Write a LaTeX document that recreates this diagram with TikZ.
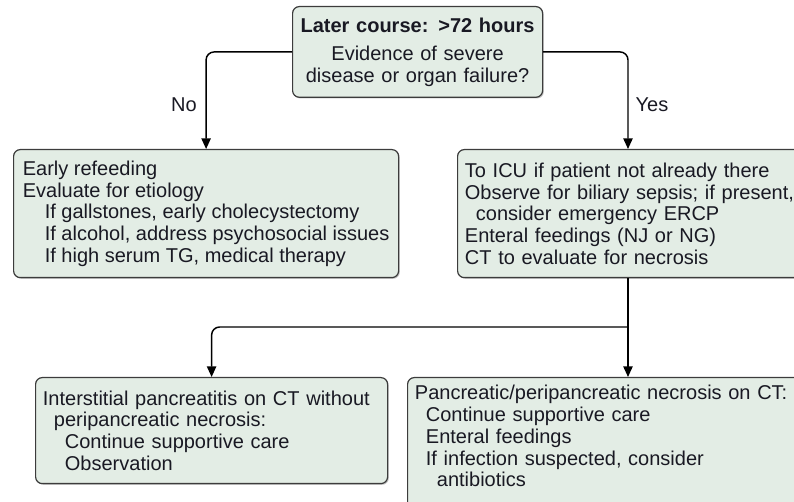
\documentclass[tikz,border=0pt]{standalone}
\usepackage{fontspec}
\setmainfont{Liberation Sans}
\usetikzlibrary{arrows.meta,shadows}

\definecolor{boxfill}{RGB}{227,237,229}
\definecolor{boxline}{RGB}{60,60,60}
\definecolor{inktext}{RGB}{25,25,35}

\hyphenpenalty=10000
\newcommand{\boxfont}{\fontsize{15}{16.3}\selectfont}
\newcommand{\subind}{\hspace*{1.1em}}
\newcommand{\halfind}{\hspace*{0.55em}}

\begin{document}
\begin{tikzpicture}[x=0.75pt, y=-0.75pt,
    box/.style={draw=boxline, line width=0.9pt, fill=boxfill, rounded corners=5pt,
      anchor=north west, align=left, inner xsep=5.5pt, inner ysep=0pt,
      text=inktext, font=\boxfont,
      drop shadow={shadow xshift=0.9pt, shadow yshift=-0.9pt, opacity=0.4, fill=black!60}},
    flow/.style={line width=1.1pt, rounded corners=6pt, -{Triangle[length=8pt, width=7pt]}},
    branch/.style={font=\boxfont, text=inktext}]

  % page frame (the reference is cut at the right and bottom)
  \useasboundingbox (0,0) rectangle (794,502);

  % === Decision at 72 hours ===
  \node[box, align=center, inner xsep=3pt, text width=181.5pt, minimum height=68pt] (course) at (292,6)
    {\textbf{Later course: >72 hours}\\[5pt]
     Evidence of severe\\
     disease or organ failure?};

  % === Mild course ===
  \node[box, inner xsep=2pt, minimum width=288.75pt, minimum height=96pt] (early) at (13,149)
    {Early refeeding\\
     Evaluate for etiology\\
     \subind If gallstones, early cholecystectomy\\
     \subind If alcohol, address psychosocial issues\\
     \subind If high serum TG, medical therapy};

  % === Severe course ===
  \node[box, text width=265pt, minimum height=96pt] (icu) at (457,149)
    {To ICU if patient not already there\\
     Observe for biliary sepsis; if present,\\
     \halfind consider emergency ERCP\\
     Enteral feedings (NJ or NG)\\
     CT to evaluate for necrosis};

  % === CT findings ===
  \node[box, text width=253pt, minimum height=79.5pt] (inter) at (35,377)
    {Interstitial pancreatitis on CT without\\
     \halfind peripancreatic necrosis:\\
     \subind Continue supportive care\\
     \subind Observation};

  \node[box, text width=295pt, minimum height=104pt] (necro) at (407,377)
    {Pancreatic/peripancreatic necrosis on CT:\\
     \halfind Continue supportive care\\
     \halfind Enteral feedings\\
     \halfind If infection suspected, consider\\
     \subind antibiotics\par\vspace*{16pt}};

  % --- Connectors ---
  \coordinate (yesx) at (628,0);
  \coordinate (split) at (628,327);

  \draw[flow] (course.west) -| (early.north);
  \draw[flow] (course.east) -| (yesx |- icu.north);
  \draw[line width=1.1pt] (icu.south -| yesx) -- (split);
  \draw[flow] (split) -| (inter.north);
  \draw[flow] (split) -- (necro.north -| split);

  % branch labels
  \node[branch] (no) at (184,105) {No};
  \node[branch] (yes) at (652,105) {Yes};

\end{tikzpicture}
\end{document}
